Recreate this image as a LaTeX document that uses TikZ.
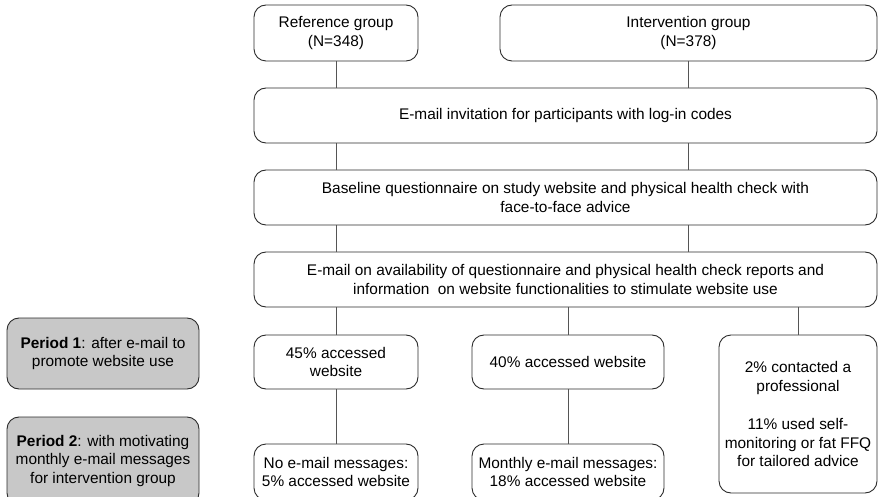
\documentclass[tikz,border=0pt]{standalone}
\usepackage{fontspec}
\setmainfont{Liberation Sans}
\definecolor{boxline}{HTML}{2B2B2B}
\definecolor{linkgray}{HTML}{555555}
\definecolor{periodfill}{HTML}{C8C8C8}
\begin{document}
\begin{tikzpicture}[x=1pt,y=-1pt,
  box/.style={draw=boxline, line width=0.9pt, rounded corners=12pt, align=center,
    inner sep=0pt, font=\fontsize{15.4}{18.5}\selectfont},
  period/.style={box, fill=periodfill},
  link/.style={draw=linkgray, line width=0.9pt}]
\useasboundingbox (0,0) rectangle (878,497);
\clip (0,0) rectangle (878,497);

% study groups
\node[box, minimum width=164pt, minimum height=56pt] (ref) at (336,33)
  {Reference group\\(N=348)};
\node[box, minimum width=377pt, minimum height=56pt] (int) at (688.5,33)
  {Intervention group\\(N=378)};

% common steps
\node[box, minimum width=623pt, minimum height=55pt] (invite) at (565.5,115.5)
  {E-mail invitation for participants with log-in codes};
\node[box, minimum width=623pt, minimum height=55pt] (base) at (565.5,197.5)
  {Baseline questionnaire on study website and physical health check with\\face-to-face advice};
\node[box, minimum width=623pt, minimum height=55pt] (avail) at (565.5,279.5)
  {E-mail on availability of questionnaire and physical health check reports and\\information\ \ on website functionalities to stimulate website use};

% period 1 outcomes
\node[box, minimum width=164pt, minimum height=54pt] (acc45) at (336,362)
  {45\% accessed\\website};
\node[box, minimum width=192pt, minimum height=54pt] (acc40) at (568,362)
  {40\% accessed website};
\node[box, minimum width=158pt, minimum height=158pt] (prof) at (798,414)
  {2\% contacted a\\professional\\[20pt]11\% used self-\\monitoring or fat FFQ\\for tailored advice};

% period 2 outcomes (running past the lower edge)
\node[box, minimum width=164pt, minimum height=56pt] (noemail) at (336,472)
  {No e-mail messages:\\5\% accessed website};
\node[box, minimum width=192pt, minimum height=56pt] (monthly) at (568,472)
  {Monthly e-mail messages:\\18\% accessed website};

% period labels
\node[period, minimum width=192pt, minimum height=71pt] (per1) at (103,353.5)
  {\textbf{Period 1}: after e-mail to\\promote website use};
\node[period, minimum width=192pt, minimum height=88pt] (per2) at (103,461)
  {\textbf{Period 2}: with motivating\\monthly e-mail messages\\for intervention group};

% connectors
\draw[link] (ref.south) -- (ref.south |- invite.north);
\draw[link] (int.south) -- (int.south |- invite.north);
\draw[link] (ref.south |- invite.south) -- (ref.south |- base.north);
\draw[link] (int.south |- invite.south) -- (int.south |- base.north);
\draw[link] (ref.south |- base.south) -- (ref.south |- avail.north);
\draw[link] (int.south |- base.south) -- (int.south |- avail.north);
\draw[link] (acc45.north |- avail.south) -- (acc45.north);
\draw[link] (acc40.north |- avail.south) -- (acc40.north);
\draw[link] (prof.north |- avail.south) -- (prof.north);
\draw[link] (acc45.south) -- (noemail.north);
\draw[link] (acc40.south) -- (monthly.north);
\end{tikzpicture}
\end{document}
